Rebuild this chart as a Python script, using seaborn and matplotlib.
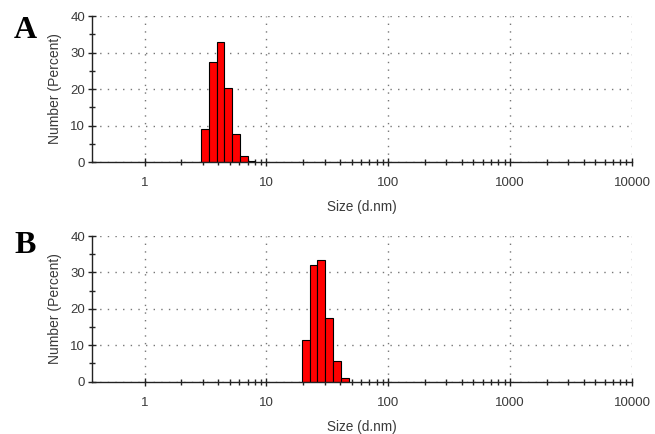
import numpy as np
import pandas as pd
import matplotlib
matplotlib.use("Agg")
import matplotlib.pyplot as plt
import seaborn as sns
from matplotlib.ticker import MultipleLocator, FixedLocator, FixedFormatter, NullFormatter

sns.set_theme(style="white")
plt.rcParams['font.family'] = ['Liberation Sans', 'DejaVu Sans']

# Size classes (d.nm) and number-percent distributions
sizes_a = [3.122, 3.615, 4.187, 4.849, 5.615, 6.503, 7.531]
number_a = [9.1, 27.5, 33.0, 20.3, 7.8, 1.7, 0.3]
sizes_b = [21.04, 24.36, 28.21, 32.67, 37.84, 43.82]
number_b = [11.4, 32.0, 33.4, 17.5, 5.7, 1.1]
panel_labels = ["A", "B"]
x_ticks = [1, 10, 100, 1000, 10000]
x_tick_labels = ["1", "10", "100", "1000", "10000"]
y_ticks = [0, 10, 20, 30, 40]

RATIO = 1.1583
LOGW = np.log10(RATIO)
minor_x = [m * 10 ** e for e in range(0, 4) for m in range(2, 10)]

fig = plt.figure(figsize=(6.55, 4.34), dpi=100)
axA = fig.add_axes([0.1405, 0.6267, 0.8244, 0.3364])
axB = fig.add_axes([0.1405, 0.1205, 0.8244, 0.3356])

txt = "#3a3a3a"
for ax, sizes, vals, lab, ylab_y in [(axA, sizes_a, number_a, panel_labels[0], 0.93),
                                      (axB, sizes_b, number_b, panel_labels[1], 0.435)]:
    df = pd.DataFrame({"size": sizes, "pct": vals})
    lc = np.log10(sizes)
    edges = np.concatenate([lc - LOGW / 2, [lc[-1] + LOGW / 2]])
    sns.histplot(data=df, x="size", weights="pct", bins=edges.tolist(), log_scale=True,
                 color="#ff0000", edgecolor="black", linewidth=0.8, alpha=1,
                 ax=ax)
    ax.set_xlim(0.37, 10000)
    ax.set_ylim(0, 40)
    ax.xaxis.set_major_locator(FixedLocator(x_ticks))
    ax.xaxis.set_major_formatter(FixedFormatter(x_tick_labels))
    ax.xaxis.set_minor_locator(FixedLocator(minor_x))
    ax.xaxis.set_minor_formatter(NullFormatter())
    ax.yaxis.set_major_locator(FixedLocator(y_ticks))
    ax.yaxis.set_minor_locator(MultipleLocator(5))
    ax.grid(True, which="major", linestyle=(0, (1, 4.5)), color="#777777", linewidth=1.0)
    ax.set_axisbelow(True)
    for s in ["top", "right"]:
        ax.spines[s].set_visible(False)
    for s in ["left", "bottom"]:
        ax.spines[s].set_color("#222222")
        ax.spines[s].set_linewidth(1.0)
    ax.tick_params(which="both", direction="inout", color="#222222", width=1.0,
                   labelsize=9.5, labelcolor=txt, left=True, bottom=True)
    ax.tick_params(which="major", length=6)
    ax.tick_params(axis="x", which="major", pad=8)
    ax.tick_params(axis="y", which="major", pad=2)
    ax.tick_params(which="minor", length=5)
    ax.set_xlabel("Size (d.nm)", fontsize=9.8, color=txt, labelpad=8)
    ax.set_ylabel("Number (Percent)", fontsize=10, color=txt, labelpad=6)
    fig.text(0.039, ylab_y, lab, fontsize=23, fontweight="bold",
             family="Liberation Serif", ha="center", va="center", color="black")

fig.savefig("out.png", dpi=100)
